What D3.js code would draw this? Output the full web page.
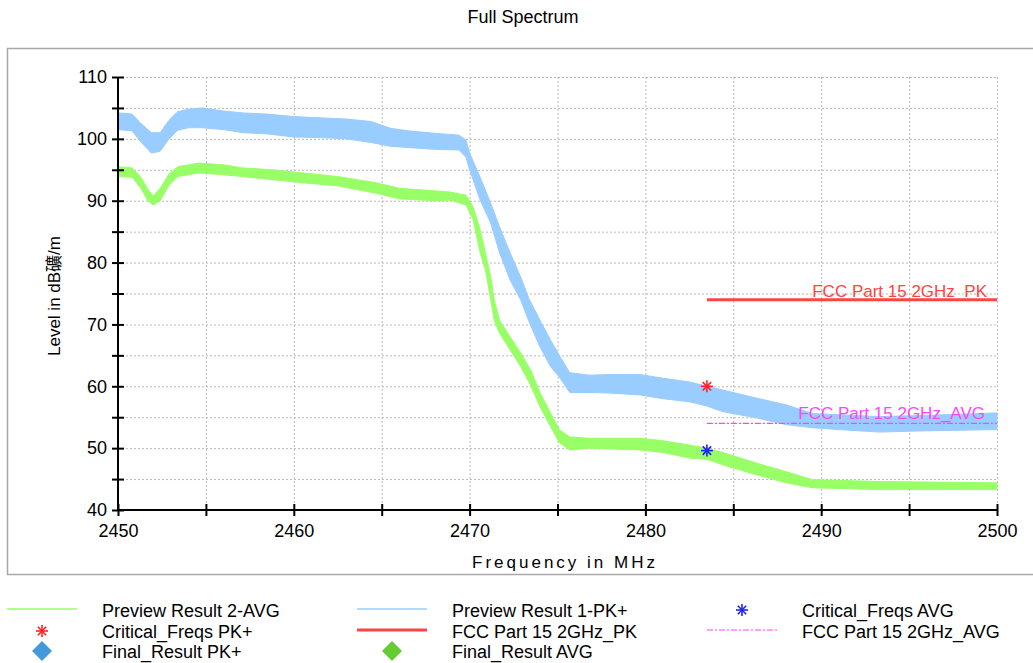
<!DOCTYPE html>
<html lang="en">
  <head>
    <meta charset="UTF-8" />
    <script src="https://d3js.org/d3.v7.min.js"></script>
    <title>Full Spectrum</title>
    <style>
      body { margin: 0; background: #fff; }
      text { font-family: "Liberation Sans", Arial, "Noto Sans CJK SC", sans-serif; }
    </style>
  </head>
  <body>
    <svg id="chart" width="1033" height="663"></svg>
  </body>
  <script>
    // Preview Result 1-PK+ : band (low / high edge)
    var pkFreq = [2450.0, 2450.8, 2451.3, 2451.9, 2452.4, 2452.9, 2453.4, 2454.0, 2454.8, 2456.0,
      2457.1, 2458.5, 2460.0, 2461.5, 2463.0, 2464.4, 2465.5, 2466.5, 2468.0, 2469.4,
      2469.8, 2470.0, 2470.6, 2471.2, 2471.7, 2472.3, 2472.9, 2473.4, 2474.0, 2474.6,
      2475.1, 2475.7, 2476.8, 2478.0, 2479.7, 2481.0, 2482.5, 2483.5, 2484.4, 2486.3,
      2488.0, 2489.5, 2491.0, 2493.3, 2496.0, 2500.0];
    var pkLow = [101.5, 101.3, 99.5, 97.7, 98.0, 100.0, 101.4, 101.8, 101.8, 101.5,
      101.0, 100.8, 100.3, 100.2, 100.0, 99.4, 98.8, 98.6, 98.3, 98.2,
      97.0, 95.0, 90.1, 86.4, 81.6, 77.2, 74.0, 70.3, 66.4, 63.2,
      61.5, 59.0, 59.0, 58.9, 58.6, 58.0, 57.5, 56.8, 55.9, 54.9,
      53.8, 53.3, 53.0, 52.6, 52.8, 53.0];
    var pkHigh = [104.2, 104.0, 102.5, 101.0, 101.0, 103.0, 104.4, 104.8, 105.0, 104.5,
      104.2, 104.0, 103.6, 103.4, 103.2, 102.8, 101.7, 101.3, 100.9, 100.6,
      99.8, 97.7, 93.8, 89.6, 85.8, 81.6, 77.7, 74.0, 70.7, 67.5,
      65.0, 62.2, 61.8, 61.9, 61.9, 61.3, 60.7, 60.0, 59.4, 58.1,
      57.0, 55.6, 55.4, 55.1, 55.3, 55.7];

    // Preview Result 2-AVG
    var avgFreq = [2450.0, 2450.8, 2451.3, 2451.7, 2452.0, 2452.4, 2452.9, 2453.4, 2454.6, 2456.0,
      2457.1, 2458.8, 2460.5, 2462.5, 2464.7, 2466.0, 2468.0, 2468.9, 2469.8, 2470.2,
      2470.6, 2470.9, 2471.2, 2471.4, 2471.7, 2472.3, 2472.9, 2473.5, 2474.0, 2474.6,
      2475.1, 2475.7, 2476.8, 2479.7, 2481.0, 2482.5, 2483.5, 2484.4, 2486.3, 2488.0,
      2489.5, 2493.3, 2500.0];
    var avgLow = [93.9, 93.8, 92.0, 90.0, 89.3, 90.0, 92.5, 93.9, 94.5, 94.2,
      93.9, 93.4, 92.9, 92.4, 91.2, 90.3, 90.0, 90.1, 89.3, 86.9,
      81.6, 78.8, 74.0, 70.7, 68.6, 65.9, 63.2, 60.0, 56.7, 53.5,
      50.9, 49.7, 50.0, 49.7, 49.3, 48.4, 48.2, 47.3, 45.7, 44.4,
      43.6, 43.3, 43.3];
    var avgHigh = [95.5, 95.3, 93.8, 91.8, 90.8, 92.0, 94.3, 95.5, 96.1, 95.8,
      95.3, 95.0, 94.5, 93.9, 92.9, 92.0, 91.6, 91.4, 90.9, 89.0,
      85.3, 81.6, 77.7, 74.0, 70.7, 68.0, 65.4, 62.5, 59.0, 55.7,
      53.0, 51.8, 51.6, 51.6, 51.2, 50.5, 50.0, 49.3, 47.6, 46.2,
      44.9, 44.6, 44.4];

    // limit lines
    var limitFreq = [2483.5, 2500];
    var limitPK = [74, 74];
    var limitAVG = [54, 54];

    // critical frequencies
    var critPK = [{ f: 2483.5, v: 60.0 }];
    var critAVG = [{ f: 2483.5, v: 49.6 }];

    var xTicks = [2450, 2455, 2460, 2465, 2470, 2475, 2480, 2485, 2490, 2495, 2500];
    var yTicks = [40, 45, 50, 55, 60, 65, 70, 75, 80, 85, 90, 95, 100, 105, 110];

    var svg = d3.select("#chart");

    var x = d3.scaleLinear().domain([2450, 2500]).range([118, 997]);
    var y = d3.scaleLinear().domain([40, 110]).range([510, 77]);

    // outer frame
    svg.append("rect")
      .attr("x", 7.5).attr("y", 48.5)
      .attr("width", 1040).attr("height", 526)
      .attr("fill", "none")
      .attr("stroke", "#a8a8a8")
      .attr("stroke-width", 1.5);

    // title
    svg.append("text")
      .attr("x", 523).attr("y", 23)
      .attr("text-anchor", "middle")
      .style("font-size", "18px")
      .text("Full Spectrum");

    // grid
    svg.append("g").selectAll("line")
      .data(yTicks.filter(d => d > 40))
      .enter().append("line")
      .attr("x1", x(2450)).attr("x2", x(2500))
      .attr("y1", d => y(d) + 0.5).attr("y2", d => y(d) + 0.5)
      .attr("stroke", "#b8b8b8")
      .attr("stroke-dasharray", "2,2");
    svg.append("g").selectAll("line")
      .data(xTicks.filter(d => d > 2450))
      .enter().append("line")
      .attr("x1", d => x(d) + 0.5).attr("x2", d => x(d) + 0.5)
      .attr("y1", y(110)).attr("y2", y(40))
      .attr("stroke", "#b8b8b8")
      .attr("stroke-dasharray", "2,2");

    // traces as bands
    var pkData = pkFreq.map((f, i) => ({ f: f, lo: pkLow[i], hi: pkHigh[i] }));
    var avgData = avgFreq.map((f, i) => ({ f: f, lo: avgLow[i], hi: avgHigh[i] }));
    var band = d3.area()
      .x(d => x(d.f))
      .y0(d => y(d.lo))
      .y1(d => y(d.hi));

    svg.append("path")
      .datum(pkData)
      .attr("d", band)
      .attr("fill", "#99ccff")
      .attr("stroke", "#99ccff")
      .attr("stroke-width", 1);
    svg.append("path")
      .datum(avgData)
      .attr("d", band)
      .attr("fill", "#99ff66")
      .attr("stroke", "#99ff66")
      .attr("stroke-width", 1);

    // limit lines
    var lim = d3.line().x(d => x(d[0])).y(d => y(d[1]));
    svg.append("path")
      .attr("d", lim(limitFreq.map((f, i) => [f, limitPK[i]])))
      .attr("stroke", "#ff4444")
      .attr("stroke-width", 3)
      .attr("fill", "none");
    svg.append("path")
      .attr("d", lim(limitFreq.map((f, i) => [f, limitAVG[i]])))
      .attr("stroke", "#ff44ff")
      .attr("stroke-width", 1.2)
      .attr("stroke-dasharray", "6,2,2,2")
      .attr("fill", "none");

    svg.append("text")
      .attr("x", 987).attr("y", y(74) - 3)
      .attr("text-anchor", "end")
      .attr("fill", "#ff4444")
      .style("font-size", "17px")
      .text("FCC Part 15 2GHz_PK");
    svg.append("text")
      .attr("x", 985).attr("y", y(54) - 4)
      .attr("text-anchor", "end")
      .attr("fill", "#ff44ff")
      .style("font-size", "17px")
      .text("FCC Part 15 2GHz_AVG");

    // asterisk marker
    function asterisk(g, cx, cy, r, color) {
      var a = r * 0.7;
      [[-r, 0, r, 0], [0, -r, 0, r], [-a, -a, a, a], [-a, a, a, -a]].forEach(function (s) {
        g.append("line")
          .attr("x1", cx + s[0]).attr("y1", cy + s[1])
          .attr("x2", cx + s[2]).attr("y2", cy + s[3])
          .attr("stroke", color)
          .attr("stroke-width", 1.6);
      });
    }
    var marks = svg.append("g");
    critPK.forEach(d => asterisk(marks, x(d.f), y(d.v), 6, "#ff2222"));
    critAVG.forEach(d => asterisk(marks, x(d.f), y(d.v), 6, "#2222ee"));

    // axes
    var yAxis = d3.axisLeft(y)
      .tickValues(yTicks)
      .tickSize(6)
      .tickPadding(6)
      .tickFormat(d => (d % 10 === 0 ? d : ""));
    var gy = svg.append("g").attr("transform", "translate(" + x(2450) + ",0)").call(yAxis);
    gy.select(".domain").attr("stroke", "#000").attr("stroke-width", 2).attr("d", "M0," + y(110) + "V" + y(40));
    gy.selectAll(".tick line").attr("x1", 6).attr("stroke-width", 2);
    gy.selectAll(".tick text").style("font-size", "18px").attr("fill", "#000").attr("x", -11);

    var xAxis = d3.axisBottom(x)
      .tickValues(xTicks)
      .tickSize(6)
      .tickFormat(d => (d % 10 === 0 ? d : ""));
    var gx = svg.append("g").attr("transform", "translate(0," + y(40) + ")").call(xAxis);
    gx.select(".domain").attr("stroke", "#000").attr("stroke-width", 2).attr("d", "M" + x(2450) + ",0H" + x(2500));
    gx.selectAll(".tick line").attr("y1", -6).attr("stroke-width", 2);
    gx.selectAll(".tick text").style("font-size", "18px").attr("fill", "#000").attr("y", 14);

    // axis titles
    svg.append("text")
      .attr("x", 565).attr("y", 568)
      .attr("text-anchor", "middle")
      .style("font-size", "17px")
      .style("letter-spacing", "3px")
      .text("Frequency in MHz");
    svg.append("text")
      .attr("transform", "translate(60,296) rotate(-90)")
      .attr("text-anchor", "middle")
      .style("font-size", "17px")
      .text("Level in dB礦/m");

    // legend
    var legendNames = ["Preview Result 2-AVG", "Preview Result 1-PK+", "Critical_Freqs AVG",
      "Critical_Freqs PK+", "FCC Part 15 2GHz_PK", "FCC Part 15 2GHz_AVG",
      "Final_Result PK+", "Final_Result AVG"];
    var colX = [7, 357, 707];
    var rowY = [610, 631, 651];
    var lg = svg.append("g");
    legendNames.forEach(function (name, i) {
      var c = i % 3, r = Math.floor(i / 3);
      lg.append("text")
        .attr("x", colX[c] + 95).attr("y", rowY[r] + 6.5)
        .style("font-size", "18px")
        .text(name);
    });
    function legLine(c, r, color, w, dash) {
      lg.append("line")
        .attr("x1", colX[c]).attr("x2", colX[c] + 70)
        .attr("y1", rowY[r] - 1).attr("y2", rowY[r] - 1)
        .attr("stroke", color).attr("stroke-width", w)
        .attr("stroke-dasharray", dash || null);
    }
    function legDiamond(c, r, color) {
      lg.append("path")
        .attr("transform", "translate(" + (colX[c] + 35) + "," + rowY[r] + ")")
        .attr("d", "M0,-10L10,0L0,10L-10,0Z")
        .attr("fill", color);
    }
    legLine(0, 0, "#99ff66", 1.5);
    legLine(1, 0, "#99ccff", 1.5);
    asterisk(lg, colX[2] + 35, rowY[0], 6, "#2222ee");
    asterisk(lg, colX[0] + 35, rowY[1], 6, "#ff2222");
    legLine(1, 1, "#ff4444", 3);
    legLine(2, 1, "#ff44ff", 1.2, "6,2,2,2");
    legDiamond(0, 2, "#4499dd");
    legDiamond(1, 2, "#66cc33");
  </script>
</html>
